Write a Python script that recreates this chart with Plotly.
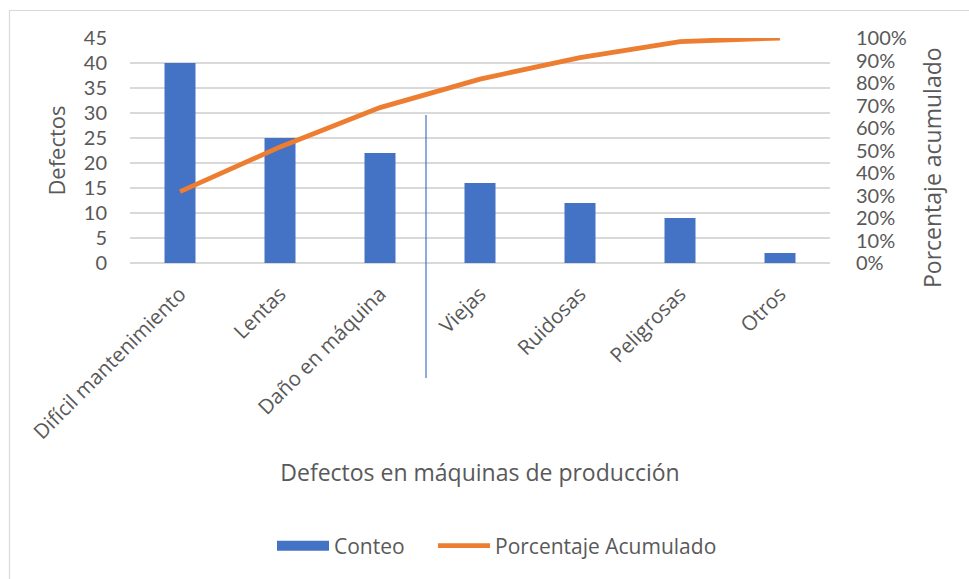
import plotly.graph_objects as go

# Pareto data: defect counts per category
categorias = ["Difícil mantenimiento", "Lentas", "Daño en máquina", "Viejas",
              "Ruidosas", "Peligrosas", "Otros"]
conteo = [40, 25, 22, 16, 12, 9, 2]

total = sum(conteo)
acumulado = []
s = 0
for c in conteo:
    s += c
    acumulado.append(s / total)

AZUL = "#4472C4"
NARANJA = "#ED7D31"
GRIS_TXT = "#595959"
GRIS_GRID = "#D9D9D9"
NUM = "Lato"
TXT = "Open Sans"

fig = go.Figure()
fig.add_trace(go.Bar(
    x=categorias, y=conteo, name="Conteo", showlegend=False,
    marker=dict(color=AZUL, line=dict(width=0)),
))
# legend key for the bars: a wide flat swatch
fig.add_trace(go.Scatter(
    x=[None], y=[None], name="Conteo", mode="lines",
    line=dict(color=AZUL, width=12), hoverinfo="skip",
    legendwidth=94,
))
fig.add_trace(go.Scatter(
    x=categorias, y=acumulado, name="Porcentaje Acumulado",
    mode="lines", yaxis="y2",
    line=dict(color=NARANJA, width=4.8),
    legendwidth=240,
))

# plot-area geometry in pixels (for the paper-referenced items)
W, H = 969, 579
ml, mr, mt, mb = 130, 139, 38, 316
pw = W - ml - mr
ph = H - mt - mb

def px_x(px):
    return (px - ml) / pw

def px_y(py):
    return (H - mb - py) / ph

# divider between the first three categories and the rest
corte = 2.46
x_corte = (corte + 0.5) / len(categorias)

fig.update_layout(
    width=W, height=H,
    margin=dict(l=ml, r=mr, t=mt, b=mb),
    paper_bgcolor="white", plot_bgcolor="white",
    font=dict(family=TXT, color=GRIS_TXT, size=20),
    bargap=0.69,
    showlegend=True,
    legend=dict(
        orientation="h", x=px_x(272), xanchor="left",
        y=px_y(546), yanchor="middle",
        font=dict(family=TXT, size=21, color=GRIS_TXT),
        itemwidth=52, tracegroupgap=0,
    ),
    xaxis=dict(
        tickangle=-45, showgrid=False, zeroline=False, showline=False,
        ticks="", ticklabelstandoff=14,
        tickfont=dict(family=TXT, size=20.5, color=GRIS_TXT),
        title=dict(text="Defectos en máquinas de producción",
                   font=dict(family=TXT, size=23, color=GRIS_TXT), standoff=21),
        automargin=False,
    ),
    yaxis=dict(
        range=[0, 45], dtick=5, tick0=0,
        showgrid=True, gridcolor=GRIS_GRID, gridwidth=1.5,
        zeroline=True, zerolinecolor=GRIS_GRID, zerolinewidth=1.5,
        showline=False, ticks="", ticklabelstandoff=22,
        tickfont=dict(family=NUM, size=20, color=GRIS_TXT),
        title=dict(text="Defectos", font=dict(family=TXT, size=22, color=GRIS_TXT),
                   standoff=12),
        automargin=False,
    ),
    yaxis2=dict(
        overlaying="y", side="right", range=[0, 1], dtick=0.1, tick0=0,
        tickformat=".0%", showgrid=False, zeroline=False, showline=False,
        ticks="", ticklabelstandoff=25,
        tickfont=dict(family=NUM, size=20, color=GRIS_TXT),
        automargin=False,
    ),
    annotations=[
        dict(text="Porcentaje acumulado", textangle=-90,
             xref="paper", yref="paper", x=px_x(932), y=px_y(168),
             xanchor="center", yanchor="middle", showarrow=False,
             font=dict(family=TXT, size=23, color=GRIS_TXT)),
    ],
    shapes=[
        dict(type="line", xref="paper", yref="paper",
             x0=x_corte, x1=x_corte, y0=px_y(378), y1=px_y(115),
             line=dict(color=AZUL, width=1.2), layer="above"),
        dict(type="rect", xref="paper", yref="paper",
             x0=px_x(9.5), x1=px_x(990), y0=px_y(10.5), y1=px_y(600),
             line=dict(color=GRIS_GRID, width=1.2), fillcolor="rgba(0,0,0,0)",
             layer="below"),
    ],
)

fig.write_html("out.html")
